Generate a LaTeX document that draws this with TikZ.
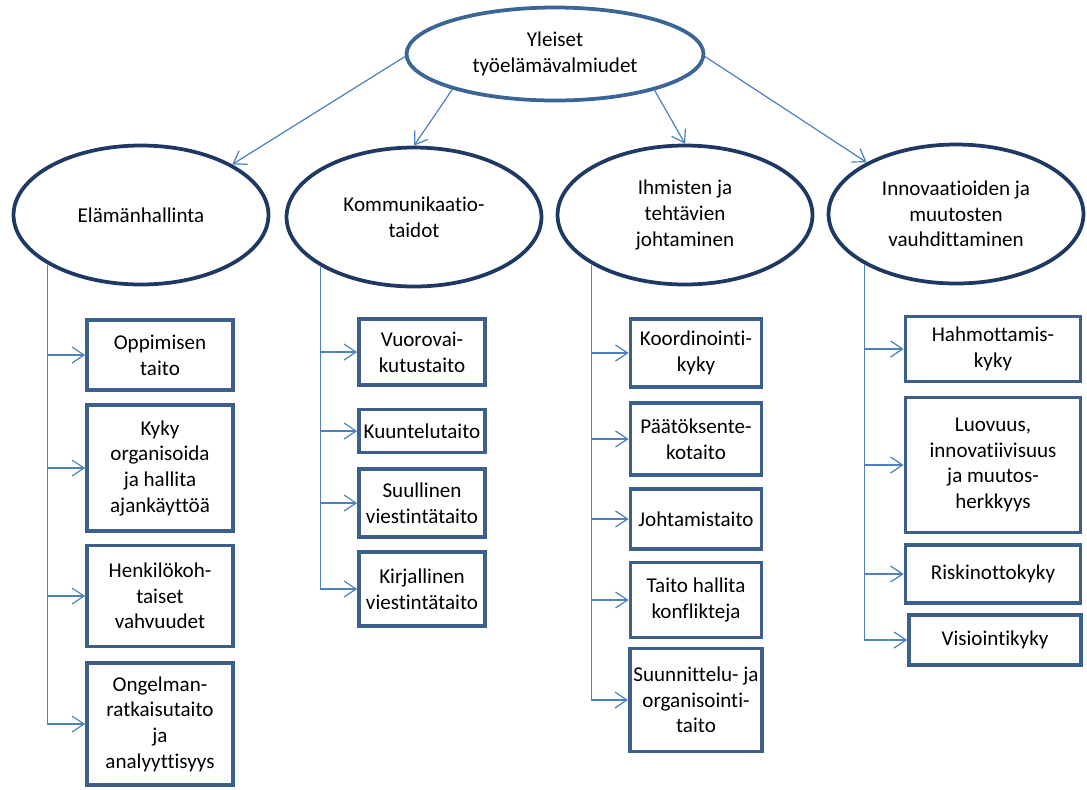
\documentclass[tikz,border=0pt]{standalone}
\usepackage{fontspec}
\setmainfont{Carlito}[Ligatures=NoCommon]
\usepackage{xcolor}
\usepackage{tikz}
\usetikzlibrary{arrows.meta,shapes.geometric}

\definecolor{ellnavy}{RGB}{31,56,100}
\definecolor{topblue}{RGB}{58,101,149}
\definecolor{boxblue}{RGB}{60,95,140}
\definecolor{lineblue}{RGB}{79,129,189}

\tikzset{elbow/.style={to path={|- (\tikztotarget)}}}

\begin{document}
\begin{tikzpicture}[x=0.02cm,y=-0.02cm,font=\fontsize{12pt}{14.6pt}\selectfont]
			\useasboundingbox (0,0) rectangle (1087,789);

			\begin{scope}[every node/.style={ellipse,draw=ellnavy,line width=0.075cm,align=center,inner sep=0pt,
			              minimum width=5.1cm,minimum height=2.78cm}]
			    \node[draw=topblue,minimum width=5.94cm,minimum height=1.86cm] (Y) at (555,54) {Yleiset\\työelämävalmiudet};
			    \node (E) at (141,215) {Elämänhallinta};
			    \node (K) at (414,217) {Kommunikaatio-\\taidot};
			    \node (I) at (685,215) {Ihmisten ja\\tehtävien\\johtaminen};
			    \node (V) at (956,214) {Innovaatioiden ja\\muutosten\\vauhdittaminen};
			\end{scope}

			\begin{scope}[every node/.style={rectangle,draw=boxblue,line width=0.075cm,align=center,inner sep=2pt}]
			    \node[minimum width=2.92cm,minimum height=1.4cm]  (E1) at (160,355) {Oppimisen\\taito};
			    \node[minimum width=2.92cm,minimum height=2.52cm] (E2) at (160,468) {Kyky\\organisoida\\ja hallita\\ajankäyttöä};
			    \node[minimum width=2.92cm,minimum height=2.02cm] (E3) at (160,596) {Henkilökoh-\\taiset\\vahvuudet};
			    \node[minimum width=2.92cm,minimum height=2.44cm] (E4) at (160,724) {Ongelman-\\ratkaisutaito\\ja\\analyyttisyys};

			    \node[minimum width=2.52cm,minimum height=1.32cm] (K1) at (422,352) {Vuorovai-\\kutustaito};
			    \node[minimum width=2.52cm,minimum height=0.86cm] (K2) at (422,431) {Kuuntelutaito};
			    \node[minimum width=2.52cm,minimum height=1.36cm] (K3) at (422,503) {Suullinen\\viestintätaito};
			    \node[minimum width=2.52cm,minimum height=1.48cm] (K4) at (422,589) {Kirjallinen\\viestintätaito};

			    \node[minimum width=2.62cm,minimum height=1.36cm] (I1) at (696,353) {Koordinointi-\\kyky};
			    \node[minimum width=2.62cm,minimum height=1.44cm] (I2) at (696,439) {Päätöksente-\\kotaito};
			    \node[minimum width=2.62cm,minimum height=1.2cm]  (I3) at (696,519) {Johtamistaito};
			    \node[minimum width=2.62cm,minimum height=1.5cm]  (I4) at (696,600) {Taito hallita\\konflikteja};
			    \node[minimum width=2.62cm,minimum height=2.06cm] (I5) at (696,700) {Suunnittelu- ja\\organisointi-\\taito};

			    \node[minimum width=3.5cm,minimum height=1.3cm]   (V1) at (993,349) {Hahmottamis-\\kyky};
			    \node[minimum width=3.5cm,minimum height=2.7cm]   (V2) at (993,465) {Luovuus,\\innovatiivisuus\\ja muutos-\\herkkyys};
			    \node[minimum width=3.5cm,minimum height=1.16cm]  (V3) at (993,574) {Riskinottokyky};
			    \node[minimum width=3.44cm,minimum height=1cm]    (V4) at (995,640) {Visiointikyky};
			\end{scope}

			\begin{scope}[>={Straight Barb[length=2.4mm,width=3.2mm]},
			              every edge/.style={draw=lineblue,line width=0.7pt}]
			    \path [->] (Y.181) edge (E.29);
			    \path [->] (Y.199) edge (K.90);
			    \path [->] (Y.-20) edge (I.90);
			    \path [->] (Y.-1) edge (V.150);

			    \path [->] (E.208) edge[elbow] (E1) edge[elbow] (E2) edge[elbow] (E3) edge[elbow] (E4);
			    \path [->] (K.208) edge[elbow] (K1) edge[elbow] (K2) edge[elbow] (K3) edge[elbow] (K4);
			    \path [->] (I.208) edge[elbow] (I1) edge[elbow] (I2) edge[elbow] (I3) edge[elbow] (I4) edge[elbow] (I5);
			    \path [->] (V.209) edge[elbow] (V1) edge[elbow] (V2) edge[elbow] (V3) edge[elbow] (V4);
			\end{scope}
			\end{tikzpicture}
\end{document}
